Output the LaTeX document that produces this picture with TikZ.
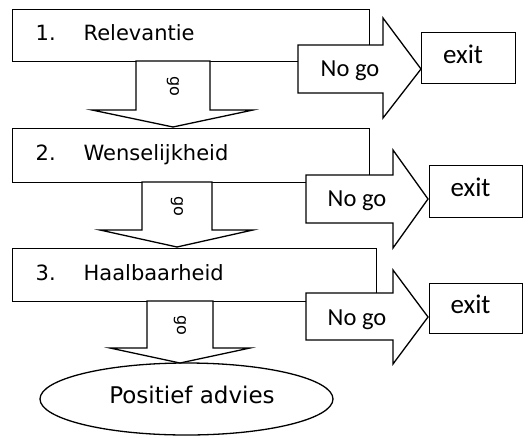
\documentclass[tikz,border=0pt]{standalone}
\usepackage{fontspec}
\setmainfont{DejaVu Sans}
\newfontfamily\calfont{Carlito}
\usetikzlibrary{shapes.geometric}
\begin{document}
\begin{tikzpicture}[x=1pt,y=-1pt,
  line width=1.3pt, line join=miter,
  stage/.style={draw, fill=white, anchor=north west, inner xsep=23pt, inner ysep=0pt,
    align=left, text height=16pt, text depth=6pt,
    font=\fontsize{21}{25}\selectfont},
  blockarrow/.style={draw, fill=white},
  exitbox/.style={draw, fill=white, anchor=north west, inner sep=0pt},
  exittext/.style={anchor=base, inner sep=0pt, font=\calfont\fontsize{27}{30}\selectfont},
  nogotext/.style={anchor=base, inner sep=0pt, font=\calfont\fontsize{24.5}{28}\selectfont},
  gotext/.style={rotate=-90, inner sep=0pt, font=\fontsize{16}{18}\selectfont},
  outcome/.style={draw, fill=white, ellipse, inner sep=0pt, minimum width=293pt, minimum height=72pt}
]
\useasboundingbox (0,0) rectangle (530,437);

% stage boxes
\node[stage, minimum width=357pt, minimum height=52pt, text width=311pt] (b1) at (12,9)
  {\makebox[48pt][l]{1.}Relevantie};
\node[stage, minimum width=357pt, minimum height=54pt, text width=311pt] (b2) at (12,128)
  {\makebox[48pt][l]{2.}Wenselijkheid};
\node[stage, minimum width=364pt, minimum height=53pt, text width=318pt] (b3) at (12,248)
  {\makebox[48pt][l]{3.}Haalbaarheid};

% final outcome
\node[outcome] (pa) at (186.5,399) {};
\node[anchor=base, inner sep=0pt, font=\fontsize{23}{26}\selectfont] (pat) at (192,403) {Positief advies};

% "go" arrows
\draw[blockarrow] (136,61) -- (136,110) -- (92,110) -- (173,127) -- (253,110) -- (210,110) -- (210,61) -- cycle;
\draw[blockarrow] (142,182) -- (142,230) -- (100,230) -- (177,247) -- (253,230) -- (212,230) -- (212,182) -- cycle;
\draw[blockarrow] (147,301) -- (147,348) -- (110,348) -- (180,363) -- (250,348) -- (213,348) -- (213,301) -- cycle;
\node[gotext] (g1) at (173,86) {go};
\node[gotext] (g2) at (177,206) {go};
\node[gotext] (g3) at (180,325) {go};

% "No go" arrows
\draw[blockarrow] (298,45) -- (383,45) -- (383,18) -- (421,69) -- (383,118) -- (383,93) -- (298,93) -- cycle;
\draw[blockarrow] (306,175) -- (393,175) -- (393,150) -- (428,199) -- (393,248) -- (393,223) -- (306,223) -- cycle;
\draw[blockarrow] (306,293) -- (393,293) -- (393,270) -- (428,317) -- (393,364) -- (393,340) -- (306,340) -- cycle;
\node[nogotext] (n1) at (350,76) {No go};
\node[nogotext] (n2) at (357,206) {No go};
\node[nogotext] (n3) at (357,325) {No go};

% exits
\node[exitbox, minimum width=94pt, minimum height=51pt] (e1) at (421,32) {};
\node[exitbox, minimum width=93pt, minimum height=52pt] (e2) at (429,165) {};
\node[exitbox, minimum width=93pt, minimum height=50pt] (e3) at (429,283) {};
\node[exittext] (x1) at (463,63) {exit};
\node[exittext] (x2) at (470.5,196) {exit};
\node[exittext] (x3) at (470.5,313) {exit};
\end{tikzpicture}
\end{document}
